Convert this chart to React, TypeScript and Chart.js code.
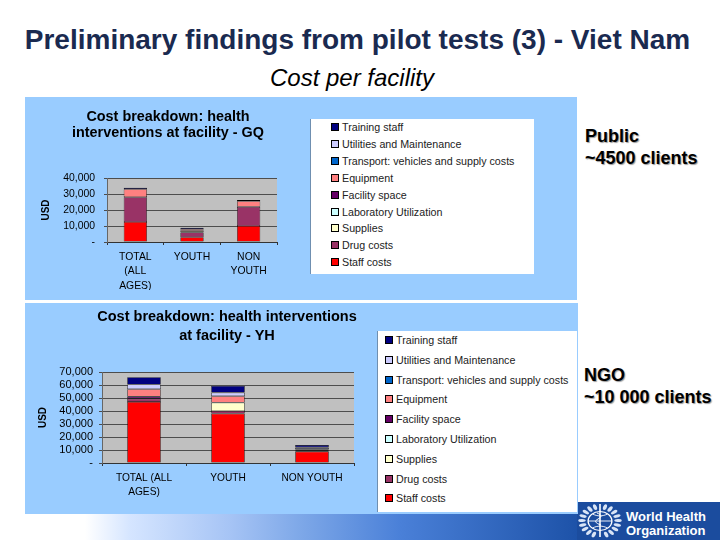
import { Chart, registerables } from 'chart.js';
import { useEffect, useRef } from 'react';

Chart.register(...registerables);

// legend order is top to bottom, stacking runs the other way
const seriesNames = [
  'Staff costs',
  'Drug costs',
  'Supplies',
  'Laboratory Utilization',
  'Facility space',
  'Equipment',
  'Transport: vehicles and supply costs',
  'Utilities and Maintenance',
  'Training staff',
];
const seriesColors = ['#ff0000', '#993366', '#ffffcc', '#ccffff', '#660066', '#ff8080', '#0066cc', '#ccccff', '#000080'];

const gqLabels = [['TOTAL', '(ALL', 'AGES)'], 'YOUTH', ['NON', 'YOUTH']];
const gqStaff = [12500, 3000, 10000];
const gqDrug = [15500, 3000, 12000];
const gqSupplies = [0, 1000, 0];
const gqLab = [0, 0, 0];
const gqFacility = [0, 0, 0];
const gqEquipment = [5000, 1000, 3500];
const gqTransport = [0, 0, 0];
const gqUtilities = [0, 0, 0];
const gqTraining = [900, 900, 700];
const gqTicks = [0, 10000, 20000, 30000, 40000];

const yhLabels = [['TOTAL (ALL', 'AGES)'], 'YOUTH', 'NON YOUTH'];
const yhStaff = [47000, 38000, 8700];
const yhDrug = [2500, 2000, 800];
const yhSupplies = [0, 6500, 500];
const yhLab = [0, 0, 0];
const yhFacility = [1500, 0, 300];
const yhEquipment = [5800, 4900, 500];
const yhTransport = [0, 0, 0];
const yhUtilities = [3600, 2800, 1200];
const yhTraining = [5600, 5100, 1800];
const yhTicks = [0, 10000, 20000, 30000, 40000, 50000, 60000, 70000];

const gqSeries = [gqStaff, gqDrug, gqSupplies, gqLab, gqFacility, gqEquipment, gqTransport, gqUtilities, gqTraining];
const yhSeries = [yhStaff, yhDrug, yhSupplies, yhLab, yhFacility, yhEquipment, yhTransport, yhUtilities, yhTraining];

const FONT = '"Liberation Sans", Arial, sans-serif';

const plotBackground = {
  id: 'plotBackground',
  beforeDraw(chart: any) {
    const { ctx, chartArea: a } = chart;
    ctx.save();
    ctx.fillStyle = '#c0c0c0';
    ctx.fillRect(a.left, a.top, a.width, a.height);
    ctx.restore();
  },
};

type CostChartProps = {
  labels: any[];
  series: number[][];
  ticks: number[];
  box: { left: number; top: number; width: number; height: number };
  pad: { left: number; top: number; right: number; bottom: number };
  yWidth: number;
  xHeight: number;
  tickSize: number;
  tickGap: number;
  labelSize: number;
  barShare: number;
};

function CostChart(props: CostChartProps) {
  const canvasRef = useRef<HTMLCanvasElement>(null);

  useEffect(() => {
    if (!canvasRef.current) return;

    const chart = new Chart(canvasRef.current, {
      type: 'bar',
      plugins: [plotBackground],
      data: {
        labels: props.labels,
        datasets: seriesNames.map((name, i) => ({
          label: name,
          data: props.series[i],
          backgroundColor: seriesColors[i],
          borderColor: '#000000',
          // empty segments would otherwise stack black lines on top of each other
          borderWidth: (c: any) => (c.raw === 0 ? 0 : 0.6),
          borderSkipped: false,
          categoryPercentage: props.barShare,
          barPercentage: 1,
        })),
      },
      options: {
        animation: false,
        responsive: false,
        devicePixelRatio: 1,
        layout: { padding: props.pad },
        plugins: {
          legend: { display: false },
          tooltip: { enabled: false },
        },
        scales: {
          x: {
            stacked: true,
            afterFit: (s: any) => {
              s.height = props.xHeight;
            },
            border: { color: '#333333', width: 1 },
            grid: { drawOnChartArea: false, drawTicks: true, tickLength: 3, color: '#333333', offset: true },
            ticks: {
              color: '#000000',
              font: { family: FONT, size: props.labelSize, lineHeight: 1.38 },
              maxRotation: 0,
              autoSkip: false,
              padding: 5,
            },
          },
          y: {
            stacked: true,
            min: 0,
            max: props.ticks[props.ticks.length - 1],
            afterFit: (s: any) => {
              s.width = props.yWidth;
            },
            afterBuildTicks: (s: any) => {
              s.ticks = props.ticks.map((value) => ({ value }));
            },
            border: { color: '#666666', width: 1 },
            grid: { color: '#4d4d4d', lineWidth: 1, tickLength: 3 },
            title: {
              display: true,
              text: 'USD',
              color: '#000000',
              font: { family: FONT, size: 10, weight: 'bold' },
              padding: 0,
            },
            ticks: {
              color: '#000000',
              font: { family: FONT, size: props.tickSize },
              padding: props.tickGap,
              autoSkip: false,
              callback: (v: any) => (v === 0 ? '-' : Number(v).toLocaleString('en-US')),
            },
          },
        },
      },
    });

    return () => chart.destroy();
  }, []);

  const { left, top, width, height } = props.box;
  return (
    <canvas
      ref={canvasRef}
      width={width}
      height={height}
      style={{ position: 'absolute', left, top, width, height }}
    />
  );
}

function ChartTitle({ center, top, size, lines }: { center: number; top: number; size: number; lines: string[] }) {
  return (
    <div
      style={{
        position: 'absolute',
        left: center - 150,
        top,
        width: 300,
        textAlign: 'center',
        font: `bold ${size}px/${size === 14.4 ? 16 : 19}px ${FONT}`,
        color: '#000000',
        whiteSpace: 'nowrap',
      }}
    >
      {lines.map((line) => (
        <div key={line}>{line}</div>
      ))}
    </div>
  );
}

function CostLegend({ left, top, width, height, x, first, step }: any) {
  const rows = seriesNames.map((name, i) => ({ name, color: seriesColors[i] })).reverse();
  return (
    <div style={{ position: 'absolute', left, top, width, height, background: '#ffffff', borderLeft: '1px solid #6f8fb0' }}>
      {rows.map((row, i) => (
        <div
          key={row.name}
          style={{
            position: 'absolute',
            left: x,
            top: first + i * step - 7,
            height: 14,
            font: `10.7px/14px ${FONT}`,
            color: '#222222',
            whiteSpace: 'nowrap',
          }}
        >
          <span
            style={{
              position: 'absolute',
              left: -11,
              top: 3,
              width: 6,
              height: 6,
              background: row.color,
              border: '0.5px solid #000000',
            }}
          />
          {row.name}
        </div>
      ))}
    </div>
  );
}

function SideNote({ left, top, lines }: { left: number; top: number; lines: string[] }) {
  return (
    <div
      style={{
        position: 'absolute',
        left,
        top,
        font: `bold 18px/22px ${FONT}`,
        color: '#000000',
        textShadow: '1px 1px 1px #9a9a9a',
        whiteSpace: 'nowrap',
      }}
    >
      {lines.map((line) => (
        <div key={line}>{line}</div>
      ))}
    </div>
  );
}

function WhoEmblem() {
  const leaves = [-160, -142, -124, -106, -88, -70, -52, -34, -16, 16, 34, 52, 70, 88, 106, 124, 142, 160];
  return (
    <svg width="46" height="36" viewBox="0 0 46 36" style={{ position: 'absolute', left: 577, top: 503 }}>
      <g transform="translate(23 18) scale(1.25 1) translate(-23 -18)">
        <circle cx="23" cy="18" r="9.5" fill="none" stroke="#ffffff" strokeWidth="1.1" />
        <path d="M13.5 18h19M17 11c4 2.5 8 2.5 12 0M17 25c4-2.5 8-2.5 12 0" fill="none" stroke="#ffffff" strokeWidth="0.8" />
        {leaves.map((a) => (
          <ellipse key={a} cx="23" cy="3.6" rx="1.5" ry="3" fill="#d8e4f6" transform={`rotate(${a} 23 18)`} />
        ))}
      </g>
      <path d="M23 1v33" stroke="#ffffff" strokeWidth="1.6" />
      <path d="M20 10c5 2 5 4 1 6s-3 4 3 6" fill="none" stroke="#ffffff" strokeWidth="1" />
    </svg>
  );
}

export default function App() {
  return (
    <div style={{ position: 'absolute', left: 0, top: 0, width: 720, height: 540, background: '#ffffff', overflow: 'hidden', fontFamily: FONT }}>
      <div style={{ position: 'absolute', left: 0, top: 514, width: 578, height: 26, background: 'linear-gradient(90deg, #ffffff 85px, #d5e5ff 130px, #a6c4f5 230px, #7ea8e8 300px, #4a80d8 400px, #1d52a8 578px)' }} />
      <div style={{ position: 'absolute', left: 577, top: 502, width: 143, height: 38, background: '#1b4c9e' }} />
      <WhoEmblem />
      <div style={{ position: 'absolute', left: 626, top: 510, font: `bold 13px/14px ${FONT}`, color: '#ffffff', whiteSpace: 'nowrap' }}>
        <div>World Health</div>
        <div>Organization</div>
      </div>

      <div style={{ position: 'absolute', left: 0, top: 24, width: 715, textAlign: 'center', font: `bold 28px/32px ${FONT}`, color: '#1a2a50', whiteSpace: 'nowrap' }}>
        Preliminary findings from pilot tests (3) - Viet Nam
      </div>
      <div style={{ position: 'absolute', left: 0, top: 65, width: 704, textAlign: 'center', font: `italic 24px/26px ${FONT}`, color: '#000000' }}>
        Cost per facility
      </div>

      <div style={{ position: 'absolute', left: 25, top: 97, width: 552, height: 203, background: '#99ccff' }} />
      <div style={{ position: 'absolute', left: 25, top: 303, width: 553, height: 211, background: '#99ccff' }} />

      <CostChart
        labels={gqLabels}
        series={gqSeries}
        ticks={gqTicks}
        box={{ left: 25, top: 97, width: 285, height: 203 }}
        pad={{ left: 15, top: 81, right: 33, bottom: 10 }}
        yWidth={67}
        xHeight={48}
        tickSize={10.4}
        tickGap={9}
        labelSize={10.4}
        barShare={0.41}
      />
      <ChartTitle center={168} top={108} size={14.4} lines={['Cost breakdown: health', 'interventions at facility - GQ']} />
      <CostLegend left={310} top={119} width={223} height={155} x={31} first={8} step={16.9} />

      <CostChart
        labels={yhLabels}
        series={yhSeries}
        ticks={yhTicks}
        box={{ left: 25, top: 303, width: 352, height: 211 }}
        pad={{ left: 12, top: 69, right: 23, bottom: 11 }}
        yWidth={65}
        xHeight={40}
        tickSize={11}
        tickGap={6}
        labelSize={10.2}
        barShare={0.4}
      />
      <ChartTitle center={227} top={307} size={14.5} lines={['Cost breakdown: health interventions', 'at facility - YH']} />
      <CostLegend left={377} top={331} width={199} height={181} x={18} first={9} step={19.8} />

      <SideNote left={585} top={125} lines={['Public', '~4500 clients']} />
      <SideNote left={584} top={364} lines={['NGO', '~10 000 clients']} />
    </div>
  );
}
